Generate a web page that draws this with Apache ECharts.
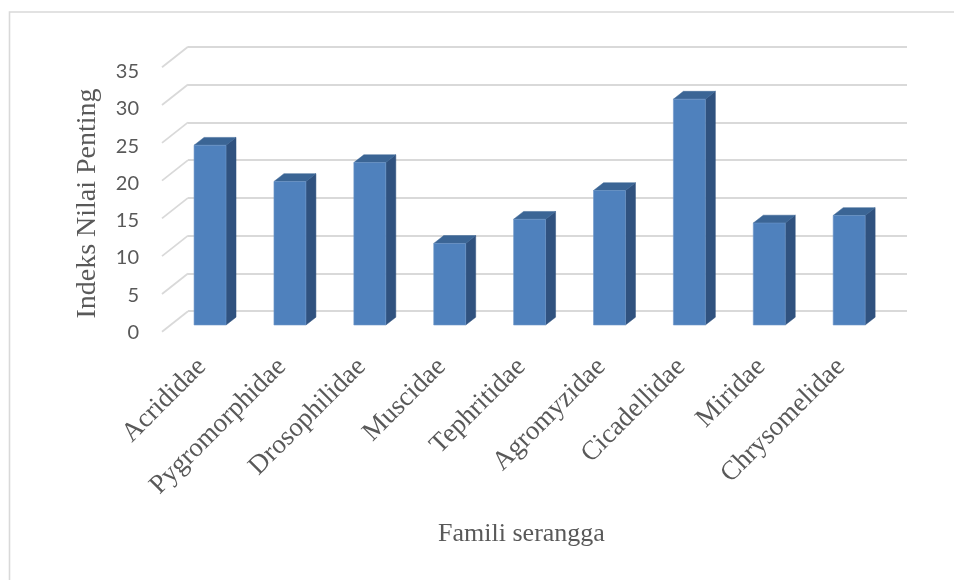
<!DOCTYPE html>
<html>
<head>
<meta charset="utf-8">
<script src="https://cdn.jsdelivr.net/npm/echarts@6/dist/echarts.min.js"></script>
<style>
  html, body { margin: 0; padding: 0; background: #ffffff; }
  #chart { width: 954px; height: 580px; }
</style>
</head>
<body>
<div id="chart"></div>
<script>
// Data
const families = ['Acrididae', 'Pygromorphidae', 'Drosophilidae', 'Muscidae', 'Tephritidae',
                  'Agromyzidae', 'Cicadellidae', 'Miridae', 'Chrysomelidae'];
const importanceIndex = [23.8, 19.0, 21.5, 10.8, 14.0, 17.8, 29.9, 13.5, 14.5];
const yTicks = [0, 5, 10, 15, 20, 25, 30, 35];
const yAxisTitle = 'Indeks Nilai Penting';
const xAxisTitle = 'Famili serangga';

// Oblique 3D projection (pixels)
const FLOOR_DX = 26, FLOOR_DY = -20.5;   // front edge of the floor -> back wall
const BAR_FRONT_DX = 8.1, BAR_FRONT_DY = -6.7; // bar front face sits a bit into the floor
const BAR_DEPTH_DX = 10, BAR_DEPTH_DY = -7.8;  // bar thickness in depth
const BAR_WIDTH_RATIO = 0.4;

const GRID_LEFT = 162, GRID_RIGHT = 73, GRID_TOP = 67.3, GRID_BOTTOM = 248.3;
const GRID_COLOR = '#d9d9d9';
const TEXT_COLOR = '#595959';
const SERIF = '"Liberation Serif", "DejaVu Serif", serif';

const chart = echarts.init(document.getElementById('chart'), null, { renderer: 'canvas' });

function barItem(params, api) {
  const idx = api.value(0);
  const v = api.value(1);
  const base = api.coord([idx, 0]);
  const top = api.coord([idx, v]);
  const band = api.size([1, 0])[0];
  const w = band * BAR_WIDTH_RATIO;
  const x0 = base[0] - w / 2 + BAR_FRONT_DX;
  const x1 = x0 + w;
  const yb = base[1] + BAR_FRONT_DY;
  const yt = top[1] + BAR_FRONT_DY;
  const dx = BAR_DEPTH_DX, dy = BAR_DEPTH_DY;
  return {
    type: 'group',
    children: [
      {
        type: 'polygon',
        shape: { points: [[x1, yt], [x1 + dx, yt + dy], [x1 + dx, yb + dy], [x1, yb]] },
        style: { fill: '#30527f', stroke: '#30527f', lineWidth: 0.5 }
      },
      {
        type: 'polygon',
        shape: { points: [[x0, yt], [x0 + dx, yt + dy], [x1 + dx, yt + dy], [x1, yt]] },
        style: { fill: '#3b6595', stroke: '#3b6595', lineWidth: 0.5 }
      },
      {
        type: 'polygon',
        shape: { points: [[x0, yt], [x1, yt], [x1, yb], [x0, yb]] },
        style: { fill: '#4f81bd', stroke: '#6f97c9', lineWidth: 0.6 }
      }
    ]
  };
}

function sideGridItem(params, api) {
  const v = api.value(0);
  const p = api.coord([0, v]);
  const band = api.size([1, 0])[0];
  const xl = p[0] - band / 2;
  return {
    type: 'line',
    shape: { x1: xl, y1: p[1], x2: xl + FLOOR_DX, y2: p[1] + FLOOR_DY },
    style: { stroke: GRID_COLOR, lineWidth: 1.8 }
  };
}

chart.setOption({
  animation: false,
  backgroundColor: '#ffffff',
  graphic: [{
    type: 'rect',
    shape: { x: 9.5, y: 12, width: 1200, height: 1200 },
    style: { fill: 'none', stroke: GRID_COLOR, lineWidth: 1.6 },
    silent: true, z: -10
  }],
  grid: [
    // front edge of the floor
    { left: GRID_LEFT, right: GRID_RIGHT, top: GRID_TOP, bottom: GRID_BOTTOM },
    // back wall
    { left: GRID_LEFT + FLOOR_DX, right: GRID_RIGHT - FLOOR_DX,
      top: GRID_TOP + FLOOR_DY, bottom: GRID_BOTTOM - FLOOR_DY },
    // value-axis labels, set slightly below the floor edge
    { left: GRID_LEFT, right: GRID_RIGHT, top: GRID_TOP + 4.4, bottom: GRID_BOTTOM - 0.8 }
  ],
  xAxis: [
    {
      type: 'category', gridIndex: 0, data: families,
      axisLine: { show: false }, axisTick: { show: false },
      axisLabel: {
        interval: 0, rotate: 45, margin: 31,
        color: TEXT_COLOR, fontFamily: SERIF, fontSize: 27
      },
      name: xAxisTitle, nameLocation: 'middle', nameGap: 189,
      nameTextStyle: { color: TEXT_COLOR, fontFamily: SERIF, fontSize: 26 }
    },
    { type: 'category', gridIndex: 1, data: families, show: false },
    { type: 'category', gridIndex: 2, data: families, show: false }
  ],
  yAxis: [
    {
      type: 'value', gridIndex: 0, min: 0, max: 35, interval: 5,
      axisLine: { show: false }, axisTick: { show: false },
      splitLine: { show: false }, axisLabel: { show: false },
      name: yAxisTitle, nameLocation: 'middle', nameGap: 60,
      nameTextStyle: { color: TEXT_COLOR, fontFamily: SERIF, fontSize: 28,
                       padding: [0, 8, 0, 0] }
    },
    {
      type: 'value', gridIndex: 1, min: 0, max: 35, interval: 5,
      axisLine: { show: false }, axisTick: { show: false }, axisLabel: { show: false },
      splitLine: { show: true, lineStyle: { color: GRID_COLOR, width: 1.8 } }
    },
    {
      type: 'value', gridIndex: 2, min: 0, max: 35, interval: 5,
      axisLine: { show: false }, axisTick: { show: false }, splitLine: { show: false },
      axisLabel: {
        margin: 23, color: TEXT_COLOR, fontFamily: 'Lato, "Open Sans", sans-serif',
        fontSize: 20,
        formatter: v => (yTicks.indexOf(v) >= 0 ? String(v) : '')
      }
    }
  ],
  series: [
    {
      type: 'custom', xAxisIndex: 0, yAxisIndex: 0, z: 1,
      renderItem: sideGridItem,
      data: yTicks.map(v => [v]),
      encode: { y: 0 },
      silent: true
    },
    {
      type: 'custom', xAxisIndex: 0, yAxisIndex: 0, z: 5,
      renderItem: barItem,
      data: importanceIndex.map((v, i) => [i, v]),
      encode: { x: 0, y: 1 }
    }
  ]
});
</script>
</body>
</html>
